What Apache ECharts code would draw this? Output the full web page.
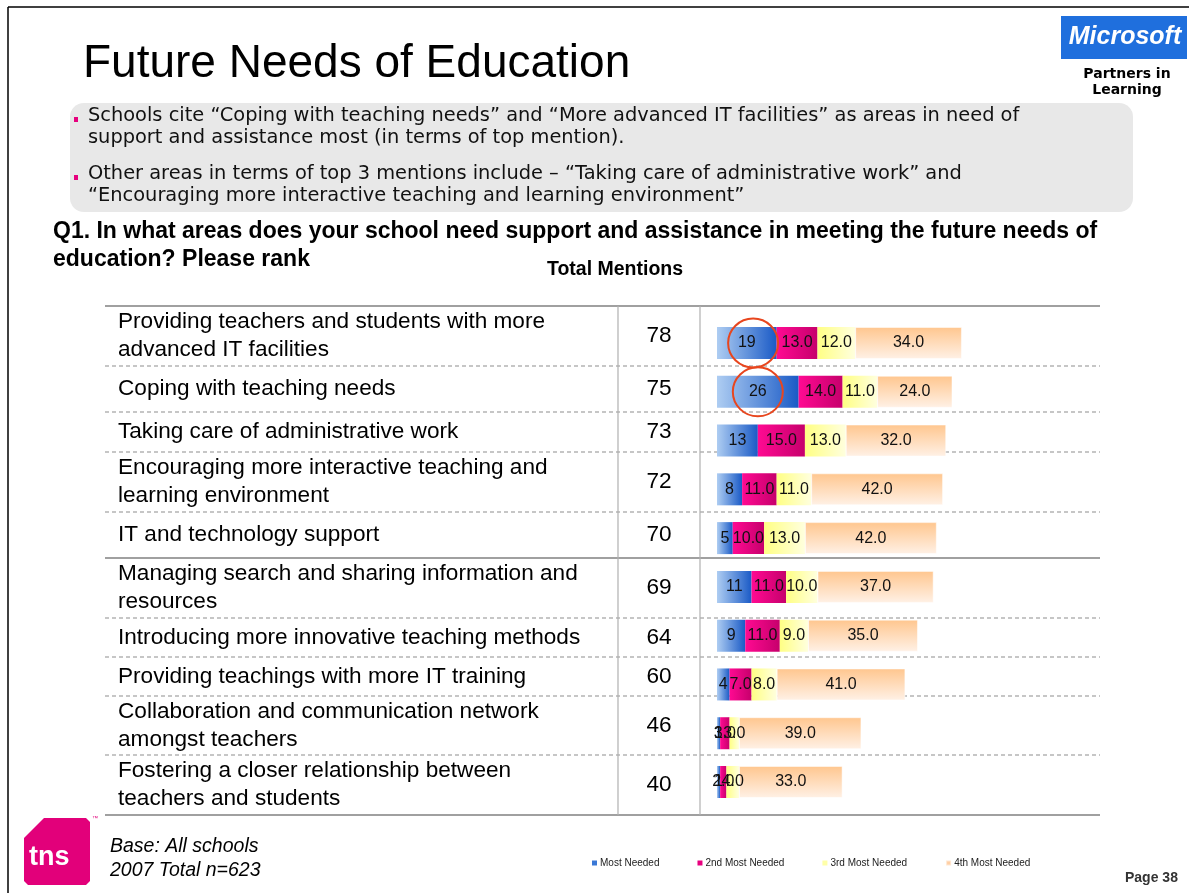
<!DOCTYPE html>
<html><head><meta charset="utf-8">
<script src="https://cdn.jsdelivr.net/npm/echarts@6/dist/echarts.min.js"></script>
<style>html,body{margin:0;padding:0;background:#fff}#c{width:1189px;height:893px}</style>
</head><body><div id="c"></div>
<script>
// ---- data ----
const categories = [
  'Providing teachers and students with more\nadvanced IT facilities',
  'Coping with teaching needs',
  'Taking care of administrative work',
  'Encouraging more interactive teaching and\nlearning environment',
  'IT and technology support',
  'Managing search and sharing information and\nresources',
  'Introducing more innovative teaching methods',
  'Providing teachings with more IT training',
  'Collaboration and communication network\namongst teachers',
  'Fostering a closer relationship between\nteachers and students'
];
const totalMentions = [78, 75, 73, 72, 70, 69, 64, 60, 46, 40];
const mostNeeded = [19, 26, 13, 8, 5, 11, 9, 4, 1, 1];
const secondMost = [13, 14, 15, 11, 10, 11, 11, 7, 3, 2];
const thirdMost = [12, 11, 13, 11, 13, 10, 9, 8, 3, 4];
const fourthMost = [34, 24, 32, 42, 42, 37, 35, 41, 39, 33];
const seriesNames = ['Most Needed', '2nd Most Needed', '3rd Most Needed', '4th Most Needed'];
const highlightedRows = [0, 1];

// ---- layout (not data) ----
const ARIAL = '"Liberation Sans", Arial, sans-serif';
const VERDANA = '"DejaVu Sans", Verdana, sans-serif';
const rowLines = [306, 366, 412, 452, 512, 558, 618, 657, 696, 755, 815];
const solidLines = [0, 5, 10];
const tableLeft = 105, tableRight = 1100, divider1 = 618, divider2 = 700;
const circleOffsets = [2, 0];

const chart = echarts.init(document.getElementById('c'));

function lg(x2, y2, c1, c2) {
  return new echarts.graphic.LinearGradient(0, 0, x2, y2, [
    { offset: 0, color: c1 }, { offset: 1, color: c2 }
  ]);
}
const fills = [
  lg(1, 0, '#aecdf2', '#1a5ac6'),
  lg(1, 0, '#ff0a92', '#c6006c'),
  lg(1, 0, '#ffff84', '#ffffde'),
  lg(0, 1, '#ffc68e', '#fff1e6')
];
const legendColors = ['#3a78d6', '#e8007f', '#ffffa8', '#ffcfa4'];
const seriesData = [mostNeeded, secondMost, thirdMost, fourthMost];

const graphics = [];
// slide frame
graphics.push({ type: 'line', shape: { x1: 8, y1: 7, x2: 1189, y2: 7 }, style: { stroke: '#000', lineWidth: 1.5 } });
graphics.push({ type: 'line', shape: { x1: 8, y1: 7, x2: 8, y2: 893 }, style: { stroke: '#000', lineWidth: 1.5 } });
// title
graphics.push({ type: 'text', style: { text: 'Future Needs of Education', x: 83, y: 64, font: '46px ' + ARIAL, fill: '#000', textVerticalAlign: 'middle' } });
// Microsoft logo
graphics.push({ type: 'rect', shape: { x: 1061, y: 16, width: 126, height: 43 }, style: { fill: '#1f6fdd' } });
graphics.push({ type: 'text', style: { text: 'Microsoft', x: 1125, y: 37, font: 'italic bold 25px ' + ARIAL, fill: '#fff', textAlign: 'center', textVerticalAlign: 'middle' } });
graphics.push({ type: 'text', style: { text: 'Partners in', x: 1127, y: 74, font: 'bold 14px ' + VERDANA, fill: '#000', textAlign: 'center', textVerticalAlign: 'middle' } });
graphics.push({ type: 'text', style: { text: 'Learning', x: 1127, y: 90, font: 'bold 14px ' + VERDANA, fill: '#000', textAlign: 'center', textVerticalAlign: 'middle' } });
// bullet box
graphics.push({ type: 'rect', shape: { x: 70, y: 103, width: 1063, height: 109, r: 14 }, style: { fill: '#e8e8e8' } });
const bulletLines = [
  ['Schools cite \u201cCoping with teaching needs\u201d and \u201cMore advanced IT facilities\u201d as areas in need of', 116, true],
  ['support and assistance most (in terms of top mention).', 138, false],
  ['Other areas in terms of top 3 mentions include \u2013 \u201cTaking care of administrative work\u201d and', 174, true],
  ['\u201cEncouraging more interactive teaching and learning environment\u201d', 196, false]
];
bulletLines.forEach(function (b) {
  if (b[2]) graphics.push({ type: 'rect', shape: { x: 74, y: b[1] + 1, width: 4, height: 5 }, style: { fill: '#e6007e' } });
  graphics.push({ type: 'text', style: { text: b[0], x: 88, y: b[1], font: '19.4px ' + VERDANA, fill: '#111', textVerticalAlign: 'middle' } });
});
// question
graphics.push({ type: 'text', style: { text: 'Q1. In what areas does your school need support and assistance in meeting the future needs of', x: 53, y: 232, font: 'bold 23px ' + ARIAL, fill: '#000', textVerticalAlign: 'middle' } });
graphics.push({ type: 'text', style: { text: 'education? Please rank', x: 53, y: 260, font: 'bold 23px ' + ARIAL, fill: '#000', textVerticalAlign: 'middle' } });
graphics.push({ type: 'text', style: { text: 'Total Mentions', x: 615, y: 270, font: 'bold 19.5px ' + ARIAL, fill: '#000', textAlign: 'center', textVerticalAlign: 'middle' } });
// table lines
rowLines.forEach(function (y, i) {
  const solid = solidLines.indexOf(i) >= 0;
  graphics.push({ type: 'line', shape: { x1: tableLeft, y1: y, x2: tableRight, y2: y },
    style: { stroke: solid ? '#a0a0a0' : '#b4b4b4', lineWidth: solid ? 2 : 1.5, lineDash: solid ? null : [4, 3] } });
});
[divider1, divider2].forEach(function (x) {
  graphics.push({ type: 'line', shape: { x1: x, y1: rowLines[0], x2: x, y2: rowLines[rowLines.length - 1] }, style: { stroke: '#b0b0b0', lineWidth: 1.2 } });
});
// table texts
categories.forEach(function (name, i) {
  const cy = (rowLines[i] + rowLines[i + 1]) / 2;
  graphics.push({ type: 'text', style: { text: name, x: 118, y: cy, font: '22.6px ' + ARIAL, lineHeight: 28, fill: '#000', textVerticalAlign: 'middle' } });
  graphics.push({ type: 'text', style: { text: String(totalMentions[i]), x: 659, y: cy, font: '22.6px ' + ARIAL, fill: '#000', textAlign: 'center', textVerticalAlign: 'middle' } });
});
// footer
graphics.push({ type: 'polygon', shape: { points: [[44, 818], [86, 818], [90, 822], [90, 881], [86, 885], [28, 885], [24, 881], [24, 838]] }, style: { fill: '#e2007a' } });
graphics.push({ type: 'text', style: { text: 'tns', x: 29, y: 858, font: 'bold 27px ' + ARIAL, fill: '#fff', textVerticalAlign: 'middle' } });
graphics.push({ type: 'text', style: { text: '\u2122', x: 92, y: 818, font: '6px ' + ARIAL, fill: '#e2007a', textVerticalAlign: 'middle' } });
graphics.push({ type: 'text', style: { text: 'Base: All schools', x: 110, y: 847, font: 'italic 19.5px ' + ARIAL, fill: '#000', textVerticalAlign: 'middle' } });
graphics.push({ type: 'text', style: { text: '2007 Total n=623', x: 110, y: 871, font: 'italic 19.5px ' + ARIAL, fill: '#000', textVerticalAlign: 'middle' } });
graphics.push({ type: 'text', style: { text: 'Page 38', x: 1125, y: 878, font: 'bold 14px ' + ARIAL, fill: '#333', textVerticalAlign: 'middle' } });

const series = seriesData.map(function (d, k) {
  return {
    name: seriesNames[k], type: 'bar', stack: 'mentions', barWidth: 32,
    data: d,
    itemStyle: { color: fills[k], borderColor: 'rgba(255,255,255,0.5)', borderWidth: k === 3 ? 1 : 0 },
    label: {
      show: true, position: 'inside', color: '#111', fontSize: 16, fontFamily: ARIAL,
      formatter: function (p) { return k === 0 ? String(p.value) : p.value.toFixed(1); }
    },
    emphasis: { disabled: true }
  };
});

const option = {
  animation: false,
  backgroundColor: '#fff',
  grid: { left: 717, top: 318.6, width: 314, height: 487.8 },
  xAxis: { type: 'value', min: 0, max: 100, show: false },
  yAxis: { type: 'category', data: categories, inverse: true, show: false },
  legend: {
    data: seriesNames.map(function (n, k) { return { name: n, itemStyle: { color: legendColors[k] } }; }),
    left: 587, top: 853, itemWidth: 5, itemHeight: 5, itemGap: 38, icon: 'rect',
    textStyle: { fontSize: 10, color: '#222', fontFamily: ARIAL, padding: [0, 0, 0, -2] }
  },
  series: series,
  graphic: graphics
};
chart.setOption(option);

// annotation circles around the top-mention labels of the two leading rows
const circles = highlightedRows.map(function (r, j) {
  const p = chart.convertToPixel({ gridIndex: 0 }, [mostNeeded[r] / 2 + circleOffsets[j], r]);
  return { type: 'ellipse', shape: { cx: p[0], cy: p[1], rx: 25, ry: 24.5 }, style: { fill: 'none', stroke: '#e8461e', lineWidth: 2 }, z: 100 };
});
chart.setOption({ graphic: graphics.concat(circles) });
</script>
</body></html>
